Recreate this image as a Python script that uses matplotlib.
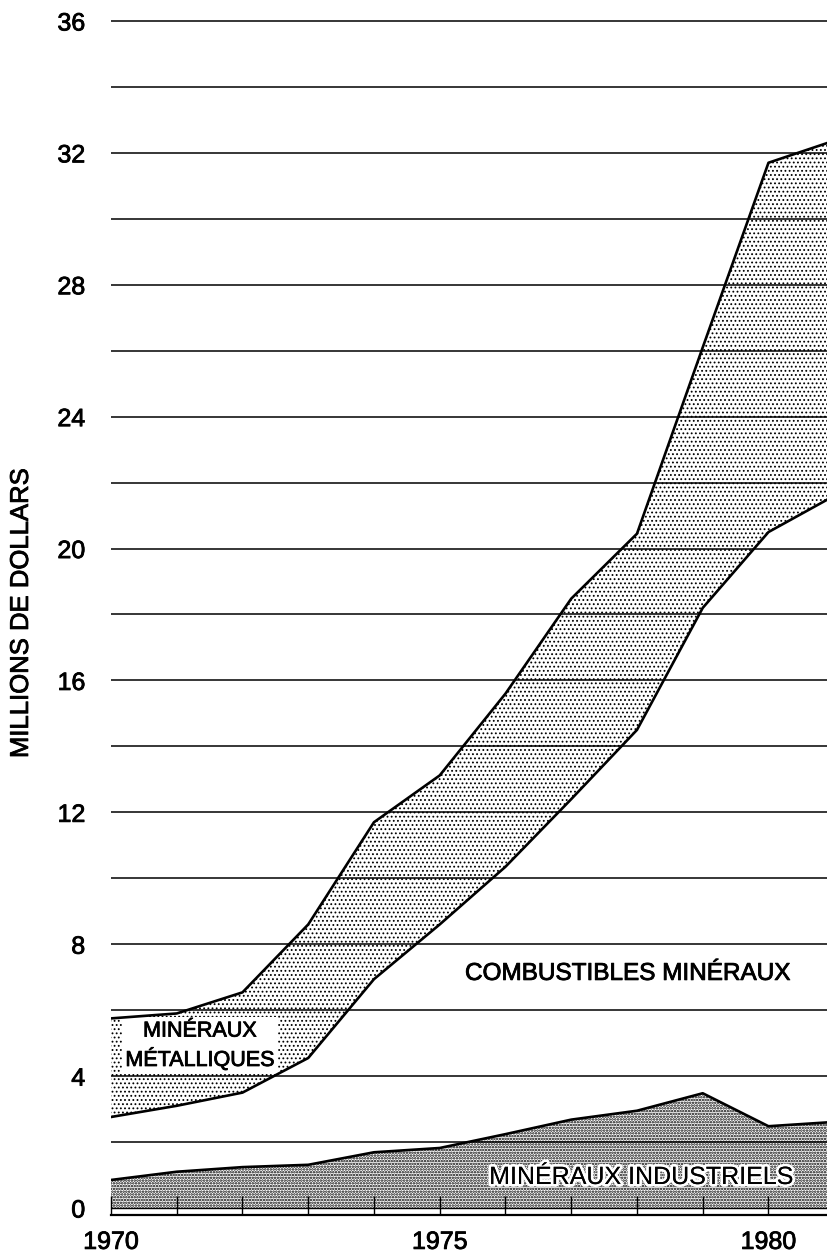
import numpy as np
import matplotlib
matplotlib.use('Agg')
import matplotlib.pyplot as plt
import matplotlib.patheffects as pe

plt.rcParams['font.family'] = ['Liberation Sans', 'DejaVu Sans']
plt.rcParams['hatch.color'] = 'black'

# valeurs (millions de dollars)
annees = [1970, 1971, 1972, 1973, 1974, 1975, 1976, 1977, 1978, 1979, 1980, 1981]
industriels = [0.85, 1.10, 1.24, 1.31, 1.69, 1.82, 2.24, 2.68, 2.95, 3.48, 2.48, 2.61]
combustibles = [1.91, 2.00, 2.26, 3.24, 5.25, 6.78, 8.11, 9.72, 11.55, 14.72, 18.02, 18.99]
metalliques = [2.99, 2.80, 3.04, 4.05, 4.76, 4.52, 5.25, 6.08, 5.95, 7.90, 11.20, 10.77]

yticks = [0, 4, 8, 12, 16, 20, 24, 28, 32, 36]
xticks = list(range(1970, 1981))
xlabels = ['1970' if a == 1970 else '1975' if a == 1975 else '1980' if a == 1980 else '' for a in xticks]

x = np.array(annees)
haut_ind = np.array(industriels)
haut_comb = haut_ind + np.array(combustibles)
haut_met = haut_comb + np.array(metalliques)

epais = [pe.withStroke(linewidth=0.6, foreground='black')]

fig = plt.figure(figsize=(8.27, 12.58), dpi=100)
ax = fig.add_axes([0.1342, 0.0345, 0.8658, 0.9567])

# lignes horizontales
for g in range(2, 37, 2):
    ax.axhline(g, color='black', lw=1.1, zorder=1)
ax.axhline(0, color='black', lw=1.0, zorder=3)

# surfaces
with plt.rc_context({'hatch.linewidth': 1.2}):
    ax.fill_between(x, 0, haut_ind, facecolor='none', edgecolor='black', lw=0,
                    hatch='......', zorder=2)
with plt.rc_context({'hatch.linewidth': 0.8}):
    ax.fill_between(x, haut_comb, haut_met, facecolor='none', edgecolor='black', lw=0,
                    hatch='....', zorder=2)
ax.plot(x, haut_ind, color='black', lw=1.9, zorder=4)
ax.plot(x, haut_comb, color='black', lw=1.9, zorder=4)
ax.plot(x, haut_met, color='black', lw=1.9, zorder=4)

ax.set_xlim(1970, 1980.89)
ax.set_ylim(-0.2, 36.3)

ax.set_yticks(yticks)
ax.set_yticklabels([str(v) for v in yticks], fontsize=18)
ax.set_xticks(xticks)
ax.set_xticklabels(xlabels, fontsize=18)
ax.tick_params(axis='y', length=0, pad=18.5)
ax.tick_params(axis='x', direction='in', length=14, width=1, pad=11)
for t in ax.get_xticklabels() + ax.get_yticklabels():
    t.set_path_effects(epais)

for s in ['top', 'right', 'left']:
    ax.spines[s].set_visible(False)
ax.spines['bottom'].set_linewidth(1.6)

ax.set_ylabel('MILLIONS DE DOLLARS', fontsize=18.5, path_effects=epais)
ax.yaxis.set_label_coords(-0.109, 0.5)

# étiquettes des surfaces
ax.text(1971.35, 4.92, 'MINÉRAUX\nMÉTALLIQUES', fontsize=15.5, ha='center', va='center',
        linespacing=1.25, zorder=3.5, path_effects=epais,
        bbox=dict(facecolor='white', edgecolor='none', pad=2.5))
ax.text(1977.85, 7.1, 'COMBUSTIBLES MINÉRAUX', fontsize=17.5, ha='center', va='center',
        zorder=5, path_effects=epais)
ax.text(1978.06, 0.94, 'MINÉRAUX INDUSTRIELS', fontsize=18, ha='center', va='center',
        family=['Liberation Sans Narrow', 'Liberation Sans'], zorder=5,
        path_effects=[pe.withStroke(linewidth=4, foreground='white'),
                      pe.Normal()])

fig.savefig('out.png', dpi=100)
